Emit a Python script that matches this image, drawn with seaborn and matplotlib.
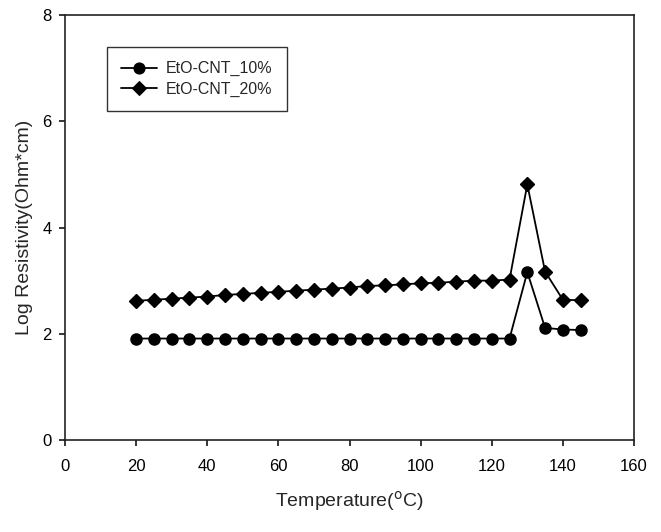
import numpy as np
import pandas as pd
import matplotlib
matplotlib.use("Agg")
import matplotlib.pyplot as plt
import seaborn as sns

temperature = [20, 25, 30, 35, 40, 45, 50, 55, 60, 65, 70, 75, 80, 85, 90, 95,
               100, 105, 110, 115, 120, 125, 130, 135, 140, 145]
cnt10 = [1.91, 1.91, 1.91, 1.91, 1.91, 1.91, 1.91, 1.91, 1.91, 1.91, 1.91, 1.91,
         1.91, 1.91, 1.91, 1.91, 1.91, 1.91, 1.91, 1.91, 1.91, 1.91, 3.16, 2.11, 2.08, 2.07]
cnt20 = [2.62, 2.64, 2.66, 2.68, 2.70, 2.73, 2.75, 2.77, 2.79, 2.81, 2.83, 2.85,
         2.87, 2.90, 2.91, 2.93, 2.95, 2.96, 2.98, 3.00, 3.00, 3.02, 4.81, 3.17, 2.64, 2.63]
series_names = ["EtO-CNT_10%", "EtO-CNT_20%"]
x_ticks = [0, 20, 40, 60, 80, 100, 120, 140, 160]
y_ticks = [0, 2, 4, 6, 8]

df = pd.DataFrame({
    "Temperature": temperature * 2,
    "value": cnt10 + cnt20,
    "series": [series_names[0]] * len(temperature) + [series_names[1]] * len(temperature),
})

sns.set_theme(style="ticks")
plt.rcParams["font.family"] = ["Liberation Sans", "DejaVu Sans"]

fig = plt.figure(figsize=(6.61, 5.32), dpi=100)
ax = fig.add_axes([65 / 661, 92 / 532, 569 / 661, 425 / 532])

sns.lineplot(data=df, x="Temperature", y="value", style="series",
             markers={series_names[0]: "o", series_names[1]: "D"},
             dashes=False, color="black", linewidth=1.3,
             ax=ax, legend=True)
for i, ln in enumerate(ax.lines[:2]):
    ln.set_markerfacecolor("black")
    ln.set_markeredgecolor("black")
    ln.set_markeredgewidth(1.0)
    ln.set_markersize(8.0 if i == 0 else 7.0)

ax.set_xlim(0, 160)
ax.set_ylim(0, 8)
ax.set_xticks(x_ticks)
ax.set_yticks(y_ticks)
ax.tick_params(direction="out", length=4.5, width=1.1, labelsize=12, colors="black")
ax.tick_params(axis="x", pad=9)
ax.tick_params(axis="y", pad=5)
for sp in ax.spines.values():
    sp.set_visible(True)
    sp.set_color("#222222")
    sp.set_linewidth(1.2)

ax.set_xlabel("Temperature($^{\\mathrm{o}}$C)", fontsize=14, labelpad=11)
ax.set_ylabel("Log Resistivity(Ohm*cm)", fontsize=14, labelpad=7)

leg = ax.legend(loc="upper left", bbox_to_anchor=(0.074, 0.925), frameon=True,
                fancybox=False, edgecolor="black", fontsize=11.5, handlelength=2.2,
                handletextpad=0.6, borderpad=0.9, labelspacing=0.35,
                borderaxespad=0)
leg.get_frame().set_linewidth(1.0)
for i, h in enumerate(leg.legend_handles):
    h.set_color("black")
    h.set_markerfacecolor("black")
    h.set_markeredgecolor("black")
    h.set_markersize(8.0 if i == 0 else 7.0)

fig.savefig("out.png", dpi=100)
